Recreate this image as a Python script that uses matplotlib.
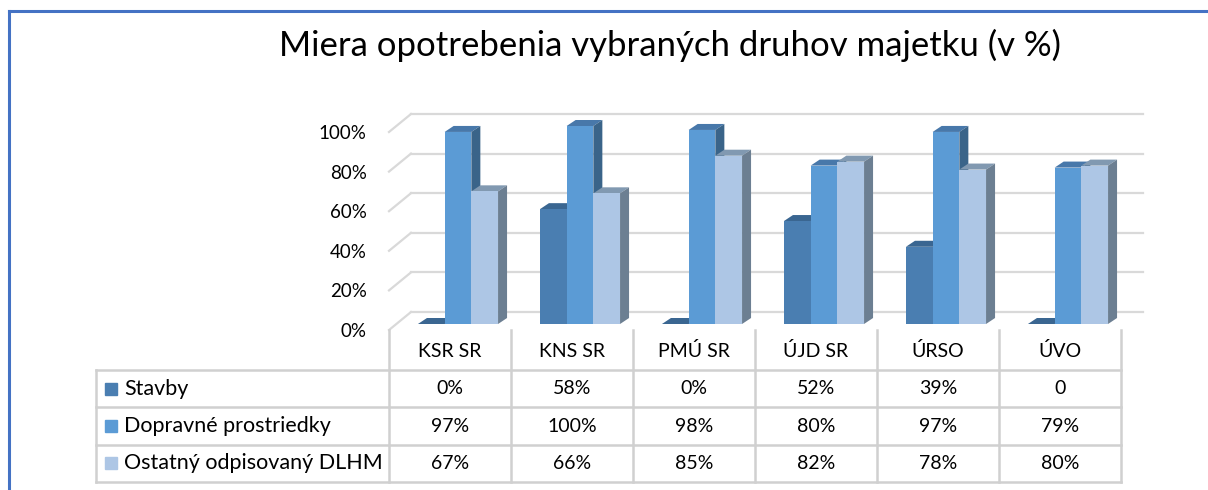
import matplotlib
matplotlib.use("Agg")
import matplotlib.pyplot as plt
from matplotlib.patches import Polygon
from matplotlib.lines import Line2D

plt.rcParams['font.family'] = ['Lato', 'DejaVu Sans']

# Data
categories = ["KSR SR", "KNS SR", "PMÚ SR", "ÚJD SR", "ÚRSO", "ÚVO"]
series = ["Stavby", "Dopravné prostriedky", "Ostatný odpisovaný DLHM"]
stavby = [0, 58, 0, 52, 39, 0]
dopravne = [97, 100, 98, 80, 97, 79]
ostatny = [67, 66, 85, 82, 78, 80]
stavby_text = ["0%", "58%", "0%", "52%", "39%", "0"]
dopravne_text = [f"{v}%" for v in dopravne]
ostatny_text = [f"{v}%" for v in ostatny]
yticks = [0, 20, 40, 60, 80, 100]

values = [stavby, dopravne, ostatny]
texts = [stavby_text, dopravne_text, ostatny_text]
front_cols = ["#4A7EB1", "#5B9BD5", "#ADC6E5"]
top_cols = ["#3A6691", "#4878AA", "#8199B1"]
side_cols = ["#355D86", "#3A6489", "#6C7F92"]

W, H = 1208, 490
fig = plt.figure(figsize=(W / 100, H / 100), dpi=100)

# chart area (front plane of the 3D box)
x0, x1, y0, y1 = 389, 1121, 330, 132
ax = fig.add_axes([x0 / W, (H - y0) / H, (x1 - x0) / W, (y0 - y1) / H])
ax.set_xlim(0, len(categories))
ax.set_ylim(0, 100)
px = len(categories) / (x1 - x0)   # data x per pixel
py = 100 / (y0 - y1)               # data y per pixel
for s in ax.spines.values():
    s.set_visible(False)
ax.set_xticks([])
ax.set_yticks(yticks)
ax.set_yticklabels([f"{t}%" for t in yticks], fontsize=13.5)
ax.tick_params(axis='y', length=0, pad=16)

# back wall gridlines + left diagonals
wx, wy = 22 * px, 18 * py
grid_c = "#D9D9D9"
for t in yticks:
    ax.plot([wx, len(categories) + wx], [t + wy, t + wy], color=grid_c, lw=1.6,
            clip_on=False, zorder=1)
    ax.plot([0, wx], [t, t + wy], color=grid_c, lw=1.6, clip_on=False, zorder=1)

# 3D bars
mx, my = 8 * px, 6 * py          # bars sit a bit behind the front plane
bdx, bdy = 9 * px, 6 * py        # bar depth
w = 26.7 * px
for i in range(len(categories)):
    for j, vals in enumerate(values):
        xl = i + 0.5 + mx + (j - 1.5) * w
        xr = xl + w
        bot = my
        top = my + vals[i]
        ax.bar(xl, vals[i], width=w, bottom=bot, align='edge',
               color=front_cols[j], lw=0, zorder=3 + i * 3 + j, clip_on=False)
        ax.add_patch(Polygon([(xl, top), (xr, top), (xr + bdx, top + bdy), (xl + bdx, top + bdy)],
                             closed=True, fc=top_cols[j], lw=0,
                             zorder=3 + i * 3 + j - 0.5, clip_on=False))
        ax.add_patch(Polygon([(xr, bot), (xr + bdx, bot + bdy), (xr + bdx, top + bdy), (xr, top)],
                             closed=True, fc=side_cols[j], lw=0,
                             zorder=3 + i * 3 + j - 0.5, clip_on=False))

# data table
tb = fig.add_axes([96 / W, (H - 482) / H, (1121 - 96) / W, (482 - 330) / H])
row_h = 112 / 3
left = -(389 - 96) / 122
tb.set_xlim(left, len(categories))
tb.set_ylim(0, 3 + 40 / row_h)
tb.axis('off')
line_c = "#D0D0D0"
for r in range(4):
    tb.plot([left, len(categories)], [r, r], color=line_c, lw=1.8, clip_on=False)
tb.plot([left, left], [0, 3], color=line_c, lw=1.8, clip_on=False)
for k in range(len(categories) + 1):
    tb.plot([k, k], [0, 3 + 40 / row_h], color=line_c, lw=1.8, clip_on=False)

for i, c in enumerate(categories):
    tb.text(i + 0.5, 3 + 20 / row_h - 0.03, c, ha='center', va='center', fontsize=14)
for j, name in enumerate(series):
    yc = 2.5 - j
    tb.plot(left + 15 / 122, yc, marker='s', ms=9, color=front_cols[j], lw=0)
    tb.text(left + 28 / 122, yc, name, ha='left', va='center', fontsize=15.5)
    for i in range(len(categories)):
        tb.text(i + 0.5, yc, texts[j][i], ha='center', va='center', fontsize=14)

# title
fig.text(670 / W, 1 - 45 / H, "Miera opotrebenia vybraných druhov majetku (v %)",
         ha='center', va='center', fontsize=25)

# document frame
fig.add_artist(Line2D([9 / W, 9 / W], [0, 1 - 11 / H], color="#4472C4", lw=2.2))
fig.add_artist(Line2D([9 / W, 1], [1 - 11 / H, 1 - 11 / H], color="#4472C4", lw=2.2))

fig.savefig("out.png", dpi=100)
